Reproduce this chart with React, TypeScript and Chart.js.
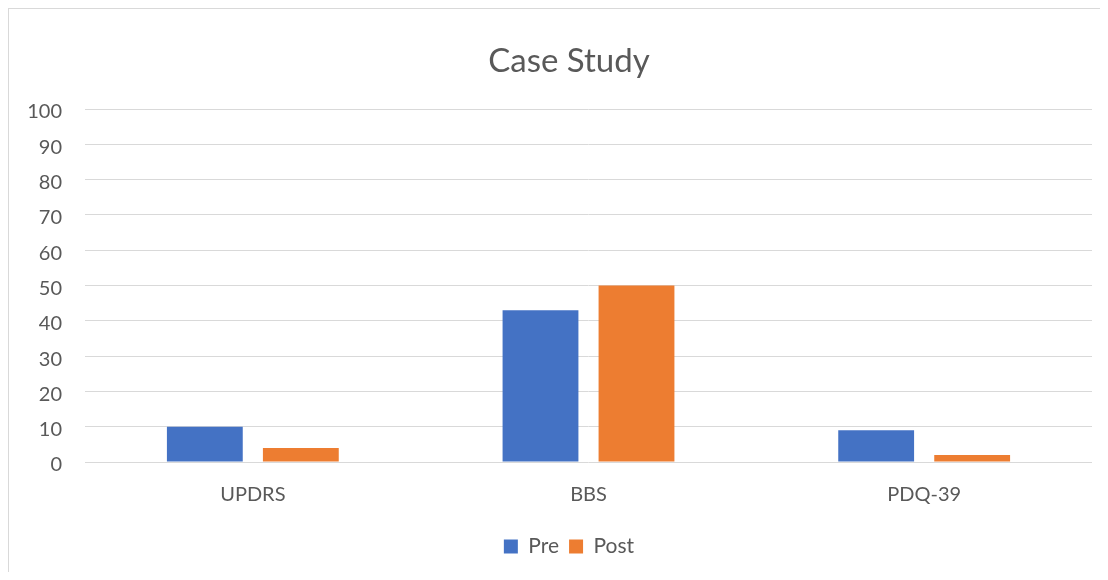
import React, { useEffect, useRef } from "react";
import { Chart, registerables } from "chart.js";

Chart.register(...registerables);

const categories = ["UPDRS", "BBS", "PDQ-39"];
const preValues = [10, 43, 9];
const postValues = [4, 50, 2];
const yTicks = [0, 10, 20, 30, 40, 50, 60, 70, 80, 90, 100];

const FONT = "Lato, 'Open Sans', sans-serif";
const TEXT = "#595959";

export default function App() {
  const ref = useRef<HTMLCanvasElement | null>(null);
  useEffect(() => {
    document.body.style.overflow = "hidden";
    const canvas = ref.current;
    if (!canvas) return;
    const chart = new Chart(canvas, {
      type: "bar",
      data: {
        labels: categories,
        datasets: [
          {
            label: "Pre",
            data: preValues,
            backgroundColor: "#4472C4",
            borderWidth: 0,
            barPercentage: 0.79,
            categoryPercentage: 0.572,
          },
          {
            label: "Post",
            data: postValues,
            backgroundColor: "#ED7D31",
            borderWidth: 0,
            barPercentage: 0.79,
            categoryPercentage: 0.572,
          },
        ],
      },
      options: {
        animation: false,
        responsive: false,
        maintainAspectRatio: false,
        layout: { padding: { left: 0, right: 0, top: 0, bottom: 5 } },
        plugins: {
          title: {
            display: true,
            text: "Case Study",
            color: TEXT,
            font: { family: FONT, size: 33, weight: "normal" },
            padding: { top: 33, bottom: 27.4 },
          },
          legend: {
            position: "bottom",
            labels: {
              color: TEXT,
              font: { family: FONT, size: 21 },
              boxWidth: 14,
              boxHeight: 14,
              padding: 10,
            },
          },
          tooltip: { enabled: false },
        },
        scales: {
          x: {
            grid: { display: false },
            border: { display: false },
            ticks: {
              color: TEXT,
              font: { family: FONT, size: 20 },
              padding: 13,
            },
            afterFit: (scale: any) => {
              scale.height = 64;
            },
          },
          y: {
            min: 0,
            max: 100,
            afterBuildTicks: (scale: any) => {
              scale.ticks = yTicks.map((v) => ({ value: v }));
            },
            grid: { color: "#d9d9d9", lineWidth: 1, drawTicks: false },
            border: { display: false },
            ticks: {
              color: TEXT,
              font: { family: FONT, size: 20 },
              padding: 23,
              labelOffset: 3,
            },
            afterFit: (scale: any) => {
              scale.width = 76;
            },
          },
          spacer: {
            type: "linear",
            position: "right",
            grid: { display: false },
            border: { display: false },
            ticks: { display: false },
            afterFit: (scale: any) => {
              scale.width = 37;
            },
          },
        },
      },
    });
    return () => chart.destroy();
  }, []);

  return (
    <div style={{ width: 1100, height: 564, overflow: "hidden", position: "relative" }}>
      <div
        style={{
          position: "absolute",
          left: 0,
          top: 0,
          width: 1200,
          height: 700,
          borderTop: "1px solid #d9d9d9",
          borderLeft: "1px solid #d9d9d9",
        }}
      >
        <canvas ref={ref} width={1120} height={563} style={{ display: "block" }} />
      </div>
    </div>
  );
}
